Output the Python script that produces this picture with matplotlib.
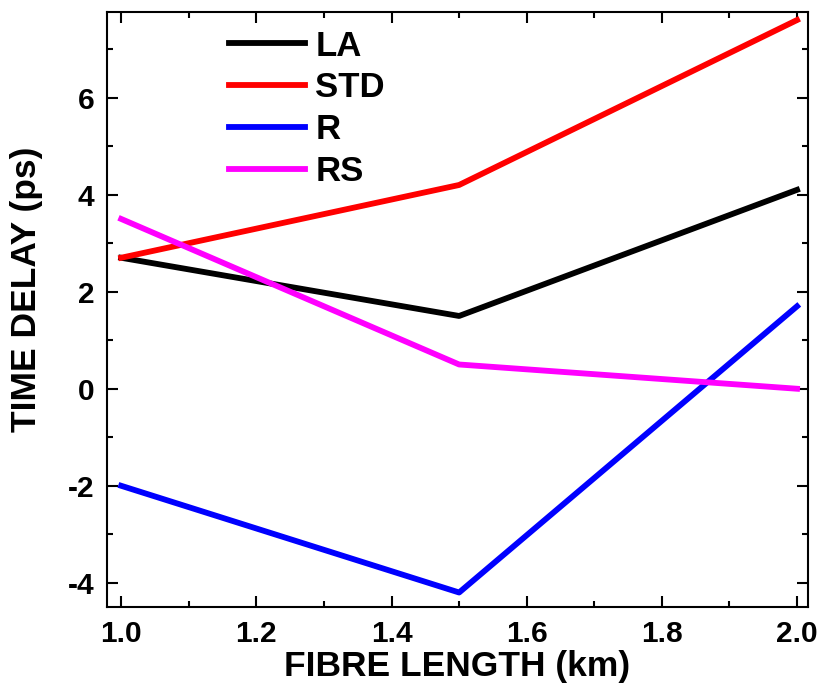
import matplotlib
matplotlib.use("Agg")
import matplotlib.pyplot as plt
from matplotlib.ticker import MultipleLocator

plt.rcParams['font.family'] = ['Liberation Sans', 'DejaVu Sans']
plt.rcParams['font.weight'] = 'bold'
plt.rcParams['axes.unicode_minus'] = False

x = [1.0, 1.5, 2.0]
la = [2.7, 1.5, 4.1]
std = [2.7, 4.2, 7.6]
r = [-2.0, -4.2, 1.7]
rs = [3.5, 0.5, 0.0]

fig = plt.figure(figsize=(8.21, 6.93), dpi=100)
ax = fig.add_axes([0.1303, 0.124, 0.8537, 0.859])
lw = 4.2
ax.plot(x, la, color='black', lw=lw, label='LA')
ax.plot(x, std, color='#ff0000', lw=lw, label='STD')
ax.plot(x, r, color='#0000ff', lw=lw, label='R')
ax.plot(x, rs, color='#ff00ff', lw=lw, label='RS')

ax.set_xlim(0.979, 2.016)
ax.set_ylim(-4.5, 7.77)
ax.xaxis.set_major_locator(MultipleLocator(0.2))
ax.xaxis.set_minor_locator(MultipleLocator(0.1))
ax.yaxis.set_major_locator(MultipleLocator(2))
ax.yaxis.set_minor_locator(MultipleLocator(1))
ax.tick_params(which='both', direction='in', top=True, right=True, width=1.5)
ax.tick_params(which='major', length=8, labelsize=21.5, pad=9)
ax.tick_params(which='minor', length=4)
for lab in ax.get_xticklabels() + ax.get_yticklabels():
    lab.set_fontweight('bold')
for s in ax.spines.values():
    s.set_linewidth(1.5)

ax.set_xlabel('FIBRE LENGTH (km)', fontsize=25.5, fontweight='bold', labelpad=2)
ax.set_ylabel('TIME DELAY (ps)', fontsize=25.5, fontweight='bold')
ax.yaxis.set_label_coords(-0.0913, 0.533)

leg = ax.legend(loc='upper left', bbox_to_anchor=(0.174, 0.970), frameon=False,
                prop={'size': 25, 'weight': 'bold'}, handlelength=2.2,
                handletextpad=0.29, labelspacing=0.25, borderpad=0, borderaxespad=0)

fig.savefig('out.png', dpi=100)
